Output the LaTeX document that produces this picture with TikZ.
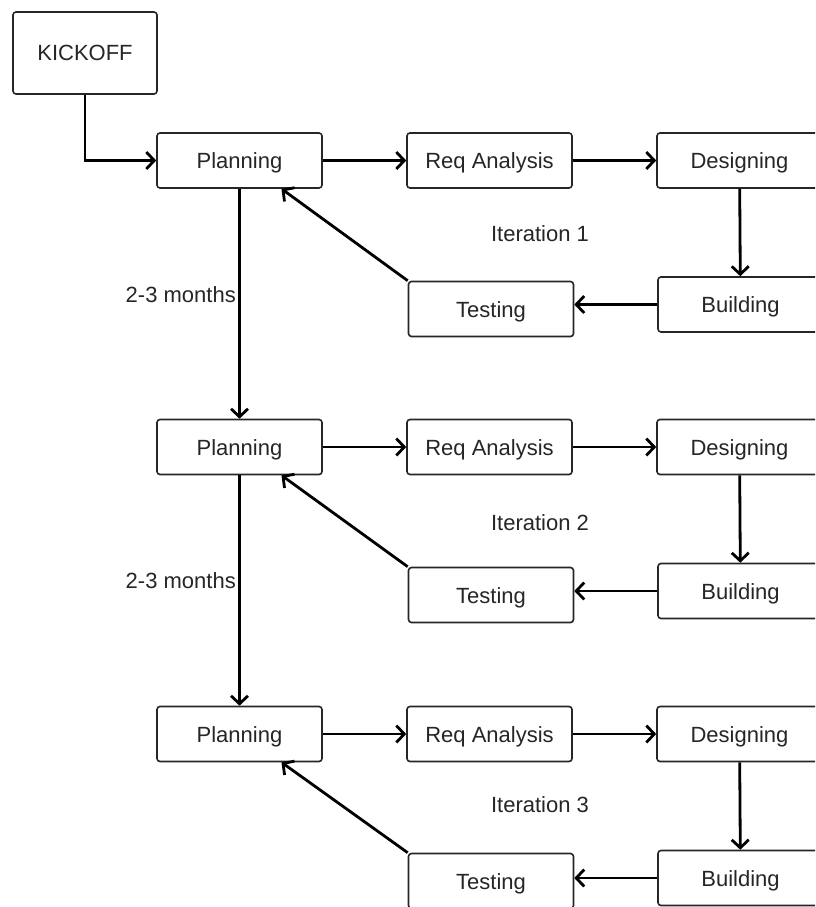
\documentclass[tikz,border=0pt]{standalone}
\usepackage{fontspec}
\setmainfont{Liberation Sans}
\usepackage{tikz}
\usetikzlibrary{arrows.meta}
\tikzset{
  stage/.style={rectangle, rounded corners=3pt, draw=black!85, line width=1.6pt, fill=white,
    minimum width=165pt, minimum height=55pt, inner sep=0pt, text=black!85,
    text height=16pt, text depth=0pt, font=\fontsize{22}{26}\selectfont},
  kick/.style={stage, minimum width=144pt, minimum height=82pt},
  flow/.style={draw=black, line width=2.8pt, -{Straight Barb[length=8pt,width=17pt,line width=2.8pt]}},
  lbl/.style={text=black!85, font=\fontsize{22}{26}\selectfont, inner sep=0pt}
}

\begin{document}
\begin{tikzpicture}[x=1pt, y=-1pt]
        \clip (0,0) rectangle (815,907);
        \fill[white] (0,0) rectangle (815,907);
        \node[kick] (kick) at (85,53) {KICKOFF};
        % iteration 1
        \node[stage] (pln1) at (239.5,160.5) {Planning};
        \node[stage] (req1) at (489.5,160.5) {Req Analysis};
        \node[stage] (dsg1) at (739.5,160.5) {Designing};
        \node[stage] (bld1) at (740.5,304.5) {Building};
        \node[stage] (tst1) at (491,309) {Testing};
        \node[lbl] (it1) at (540,234) {Iteration 1};
        \node[lbl, anchor=east] (mo1) at (236,295) {2-3 months};
        % iteration 2
        \node[stage] (pln2) at (239.5,447) {Planning};
        \node[stage] (req2) at (489.5,447) {Req Analysis};
        \node[stage] (dsg2) at (739.5,447) {Designing};
        \node[stage] (bld2) at (740.5,591) {Building};
        \node[stage] (tst2) at (491,595) {Testing};
        \node[lbl] (it2) at (540,523) {Iteration 2};
        \node[lbl, anchor=east] (mo2) at (236,581) {2-3 months};
        % iteration 3
        \node[stage] (pln3) at (239.5,734) {Planning};
        \node[stage] (req3) at (489.5,734) {Req Analysis};
        \node[stage] (dsg3) at (739.5,734) {Designing};
        \node[stage] (bld3) at (740.5,878) {Building};
        \node[stage] (tst3) at (491,881) {Testing};
        \node[lbl] (it3) at (540,805) {Iteration 3};
        \draw[flow] (kick.south) |- (pln1.west);
        \draw[flow] (pln1) -- (req1); \draw[flow] (req1) -- (dsg1);
        \draw[flow] (dsg1) -- (bld1); \draw[flow] (bld1.west) -- (bld1.west -| tst1.east);
        \draw[flow] (tst1.north west) -- (pln1.-34);
        \draw[flow] (pln1) -- (pln2);
        \draw[flow] (pln2) -- (req2); \draw[flow] (req2) -- (dsg2);
        \draw[flow] (dsg2) -- (bld2); \draw[flow] (bld2.west) -- (bld2.west -| tst2.east);
        \draw[flow] (tst2.north west) -- (pln2.-34);
        \draw[flow] (pln2) -- (pln3);
        \draw[flow] (pln3) -- (req3); \draw[flow] (req3) -- (dsg3);
        \draw[flow] (dsg3) -- (bld3); \draw[flow] (bld3.west) -- (bld3.west -| tst3.east);
        \draw[flow] (tst3.north west) -- (pln3.-34);
      \end{tikzpicture}
\end{document}
